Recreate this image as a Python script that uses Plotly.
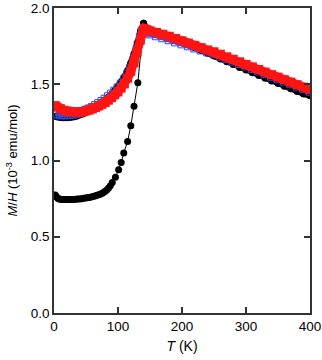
import plotly.graph_objects as go

# ZFC (black circles, lower branch)
T_zfc = [2, 4, 6, 8, 10, 13, 16, 19, 22, 25, 28, 31, 34, 37, 40, 43, 46, 49, 52, 55,
         58, 61, 64, 67, 70, 73, 76, 79, 82, 85, 88, 91, 96, 101, 105, 109, 115, 120,
         125, 131, 140]
MH_zfc = [0.774, 0.760, 0.752, 0.748, 0.746, 0.745, 0.744, 0.744, 0.744, 0.744, 0.745,
          0.745, 0.746, 0.747, 0.748, 0.750, 0.752, 0.754, 0.756, 0.758, 0.761, 0.764,
          0.768, 0.772, 0.776, 0.781, 0.787, 0.795, 0.805, 0.818, 0.835, 0.855, 0.890,
          0.940, 0.987, 1.050, 1.125, 1.228, 1.355, 1.510, 1.900]

# FC (black circles, upper branch)
T_fc = [2, 5, 10, 15, 20, 25, 30, 35, 40, 45, 50, 55, 60, 65, 70, 75, 80, 85, 90, 95,
        100, 105, 110, 115, 120, 125, 130, 135, 140, 145, 150, 160, 170, 180, 190, 200,
        210, 220, 230, 240, 250, 260, 270, 280, 290, 300, 310, 320, 330, 340, 350, 360,
        370, 380, 390, 400]
MH_fc = [1.290, 1.285, 1.282, 1.280, 1.280, 1.282, 1.285, 1.290, 1.298, 1.305, 1.315,
         1.325, 1.337, 1.350, 1.365, 1.380, 1.397, 1.415, 1.435, 1.460, 1.485, 1.515,
         1.550, 1.590, 1.640, 1.700, 1.770, 1.850, 1.900, 1.860, 1.850, 1.835, 1.820,
         1.805, 1.790, 1.775, 1.760, 1.740, 1.722, 1.703, 1.685, 1.665, 1.648, 1.630,
         1.610, 1.594, 1.575, 1.558, 1.540, 1.522, 1.505, 1.487, 1.470, 1.452, 1.436,
         1.425]

# blue open squares
T_blue = [2, 5, 10, 15, 20, 25, 30, 35, 40, 45, 50, 55, 60, 65, 70, 75, 80, 85, 90, 95,
          100, 105, 110, 115, 120, 125, 130, 135, 138, 142, 145, 150, 160, 170, 180, 190,
          200, 210, 220, 230, 240, 250, 260, 270, 280, 290, 300, 310, 320, 330, 340, 350,
          360, 370, 380, 390, 400]
MH_blue = [1.310, 1.305, 1.300, 1.300, 1.300, 1.302, 1.305, 1.310, 1.315, 1.322, 1.330,
           1.338, 1.348, 1.360, 1.373, 1.387, 1.402, 1.418, 1.435, 1.455, 1.475, 1.500,
           1.530, 1.565, 1.605, 1.660, 1.730, 1.810, 1.850, 1.845, 1.838, 1.830, 1.818,
           1.805, 1.792, 1.778, 1.765, 1.752, 1.738, 1.725, 1.712, 1.700, 1.684, 1.668,
           1.652, 1.636, 1.620, 1.603, 1.587, 1.570, 1.553, 1.537, 1.520, 1.503, 1.487,
           1.471, 1.455]

# red filled squares
T_red = [2, 5, 10, 15, 20, 25, 30, 35, 40, 45, 50, 55, 60, 65, 70, 75, 80, 85, 90, 95,
         100, 105, 110, 115, 120, 125, 130, 135, 138, 141, 145, 150, 160, 170, 180, 190,
         200, 210, 220, 230, 240, 250, 260, 270, 280, 290, 300, 310, 320, 330, 340, 350,
         360, 370, 380, 390, 400]
MH_red = [1.360, 1.350, 1.340, 1.330, 1.325, 1.320, 1.318, 1.317, 1.318, 1.320, 1.325,
          1.330, 1.338, 1.347, 1.357, 1.368, 1.380, 1.395, 1.412, 1.430, 1.450, 1.475,
          1.502, 1.540, 1.585, 1.640, 1.710, 1.790, 1.840, 1.865, 1.858, 1.850, 1.840,
          1.828, 1.815, 1.800, 1.785, 1.770, 1.755, 1.740, 1.725, 1.713, 1.697, 1.680,
          1.664, 1.647, 1.630, 1.614, 1.597, 1.580, 1.563, 1.547, 1.530, 1.514, 1.497,
          1.481, 1.465]

FONT = "Liberation Sans, Arial, sans-serif"

fig = go.Figure()

fig.add_trace(go.Scatter(x=T_zfc, y=MH_zfc, mode="lines+markers",
                         line=dict(color="black", width=1),
                         marker=dict(symbol="circle", size=7, color="black")))
fig.add_trace(go.Scatter(x=T_fc, y=MH_fc, mode="lines+markers",
                         line=dict(color="black", width=6),
                         marker=dict(symbol="circle", size=7, color="black")))
fig.add_trace(go.Scatter(x=T_blue, y=MH_blue, mode="lines+markers",
                         line=dict(color="rgb(40,80,230)", width=5),
                         marker=dict(symbol="square-open", size=8, color="rgb(40,80,230)",
                                     line=dict(width=1))))
fig.add_trace(go.Scatter(x=T_red, y=MH_red, mode="lines+markers",
                         line=dict(color="rgb(255,20,20)", width=9),
                         marker=dict(symbol="square", size=9, color="rgb(255,20,20)")))

axis_style = dict(showline=True, linecolor="#333333", linewidth=1.5, mirror="ticks",
                  ticks="inside", ticklen=6, tickwidth=1.5, tickcolor="#333333",
                  showgrid=False, zeroline=False, automargin=False,
                  ticklabeloverflow="allow",
                  tickfont=dict(family=FONT, size=13.5, color="black"))

fig.update_xaxes(range=[0, 400], dtick=100, tick0=0,
                 title=dict(text="<i>T</i> (K)", font=dict(family=FONT, size=14, color="black"),
                            standoff=8),
                 **axis_style)
fig.update_yaxes(range=[0, 2.0], dtick=0.5, tick0=0, tickformat=".1f",
                 title=dict(text="<i>M</i>/<i>H</i> (10<sup>-3</sup> emu/mol)",
                            font=dict(family=FONT, size=13, color="black"), standoff=10),
                 **axis_style)

fig.update_layout(width=322, height=360, showlegend=False,
                  margin=dict(l=54, r=12, t=8, b=47),
                  plot_bgcolor="white", paper_bgcolor="white")

# page body has a default 8px margin; drop it so the figure sits at the window corner
fig.write_html("out.html", config={"displayModeBar": False},
               post_script="document.body.style.margin='0px';")
